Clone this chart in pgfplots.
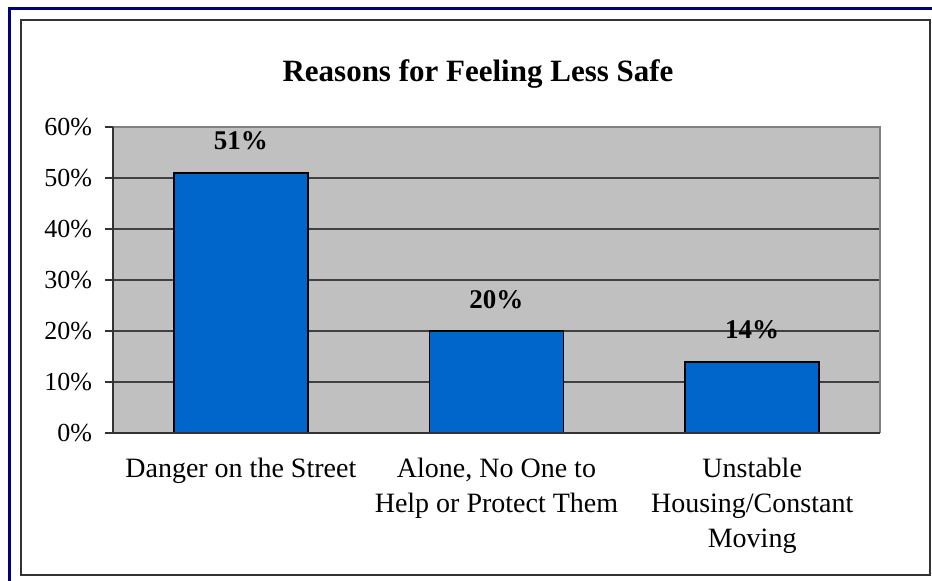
\documentclass[border=0pt]{standalone}
\usepackage{pgfplots}
\pgfplotsset{compat=1.18}
\usepackage{fontspec}
\setmainfont{Liberation Serif}
\definecolor{barblue}{RGB}{0,102,204}
\definecolor{plotgray}{RGB}{192,192,192}
\definecolor{framenavy}{RGB}{0,0,128}
\begin{document}
\begin{tikzpicture}
\clip (0pt,0pt) rectangle (466pt,290pt);
\fill[white] (0pt,0pt) rectangle (466pt,290pt);
% outer navy frame and inner black frame
\draw[framenavy,line width=1.5pt] (4.5pt,-10pt) rectangle (480pt,285.5pt);
\draw[black!80,line width=1pt] (10.25pt,2.5pt) rectangle (465pt,279.75pt);
\node[font=\fontsize{15.5}{18}\selectfont\bfseries] at (239pt,253pt) {Reasons for Feeling Less Safe};
\begin{axis}[
    at={(56.5pt,73.5pt)}, anchor=south west,
    scale only axis,
    width=383.5pt, height=153pt,
    ybar, bar width=67pt,
    xmin=-0.5, xmax=2.5,
    ymin=0, ymax=60,
    ytick={0,10,20,30,40,50,60},
    yticklabels={0\%,10\%,20\%,30\%,40\%,50\%,60\%},
    xtick={0,1,2},
    xticklabels={Danger on the Street, {Alone, No One to\\Help or Protect Them}, {Unstable\\Housing/Constant\\Moving}},
    extra x ticks={-0.5,0.5,1.5,2.5},
    extra x tick labels={},
    extra x tick style={major tick length=4pt, tick style={black!80, semithick}, grid=none},
    major x tick style={draw=none},
    xtick pos=bottom, ytick pos=left,
    tick align=outside,
    ytick style={black!80, semithick},
    major tick length=4pt,
    ymajorgrids,
    grid style={black!75, semithick},
    axis background/.style={fill=plotgray},
    axis line style={draw=none},
    /pgf/number format/assume math mode=true,
    xticklabel style={font=\fontsize{14}{17.5}\selectfont, align=center, yshift=-5pt},
    yticklabel style={font=\fontsize{13}{15}\selectfont, xshift=-3pt},
    nodes near coords={\pgfmathprintnumber{\pgfplotspointmeta}\%},
    nodes near coords style={font=\fontsize{13.5}{16}\selectfont\bfseries, yshift=7.5pt},
    clip=false,
]
\draw[black!50, semithick] (rel axis cs:0,1) -- (rel axis cs:1,1) -- (rel axis cs:1,0);
\addplot[fill=barblue, draw=black, line width=0.9pt] coordinates {(0,51) (1,20) (2,14)};
\draw[black!80, semithick] (rel axis cs:0,1) -- (rel axis cs:0,0) -- (rel axis cs:1,0);
\end{axis}
\end{tikzpicture}
\end{document}
